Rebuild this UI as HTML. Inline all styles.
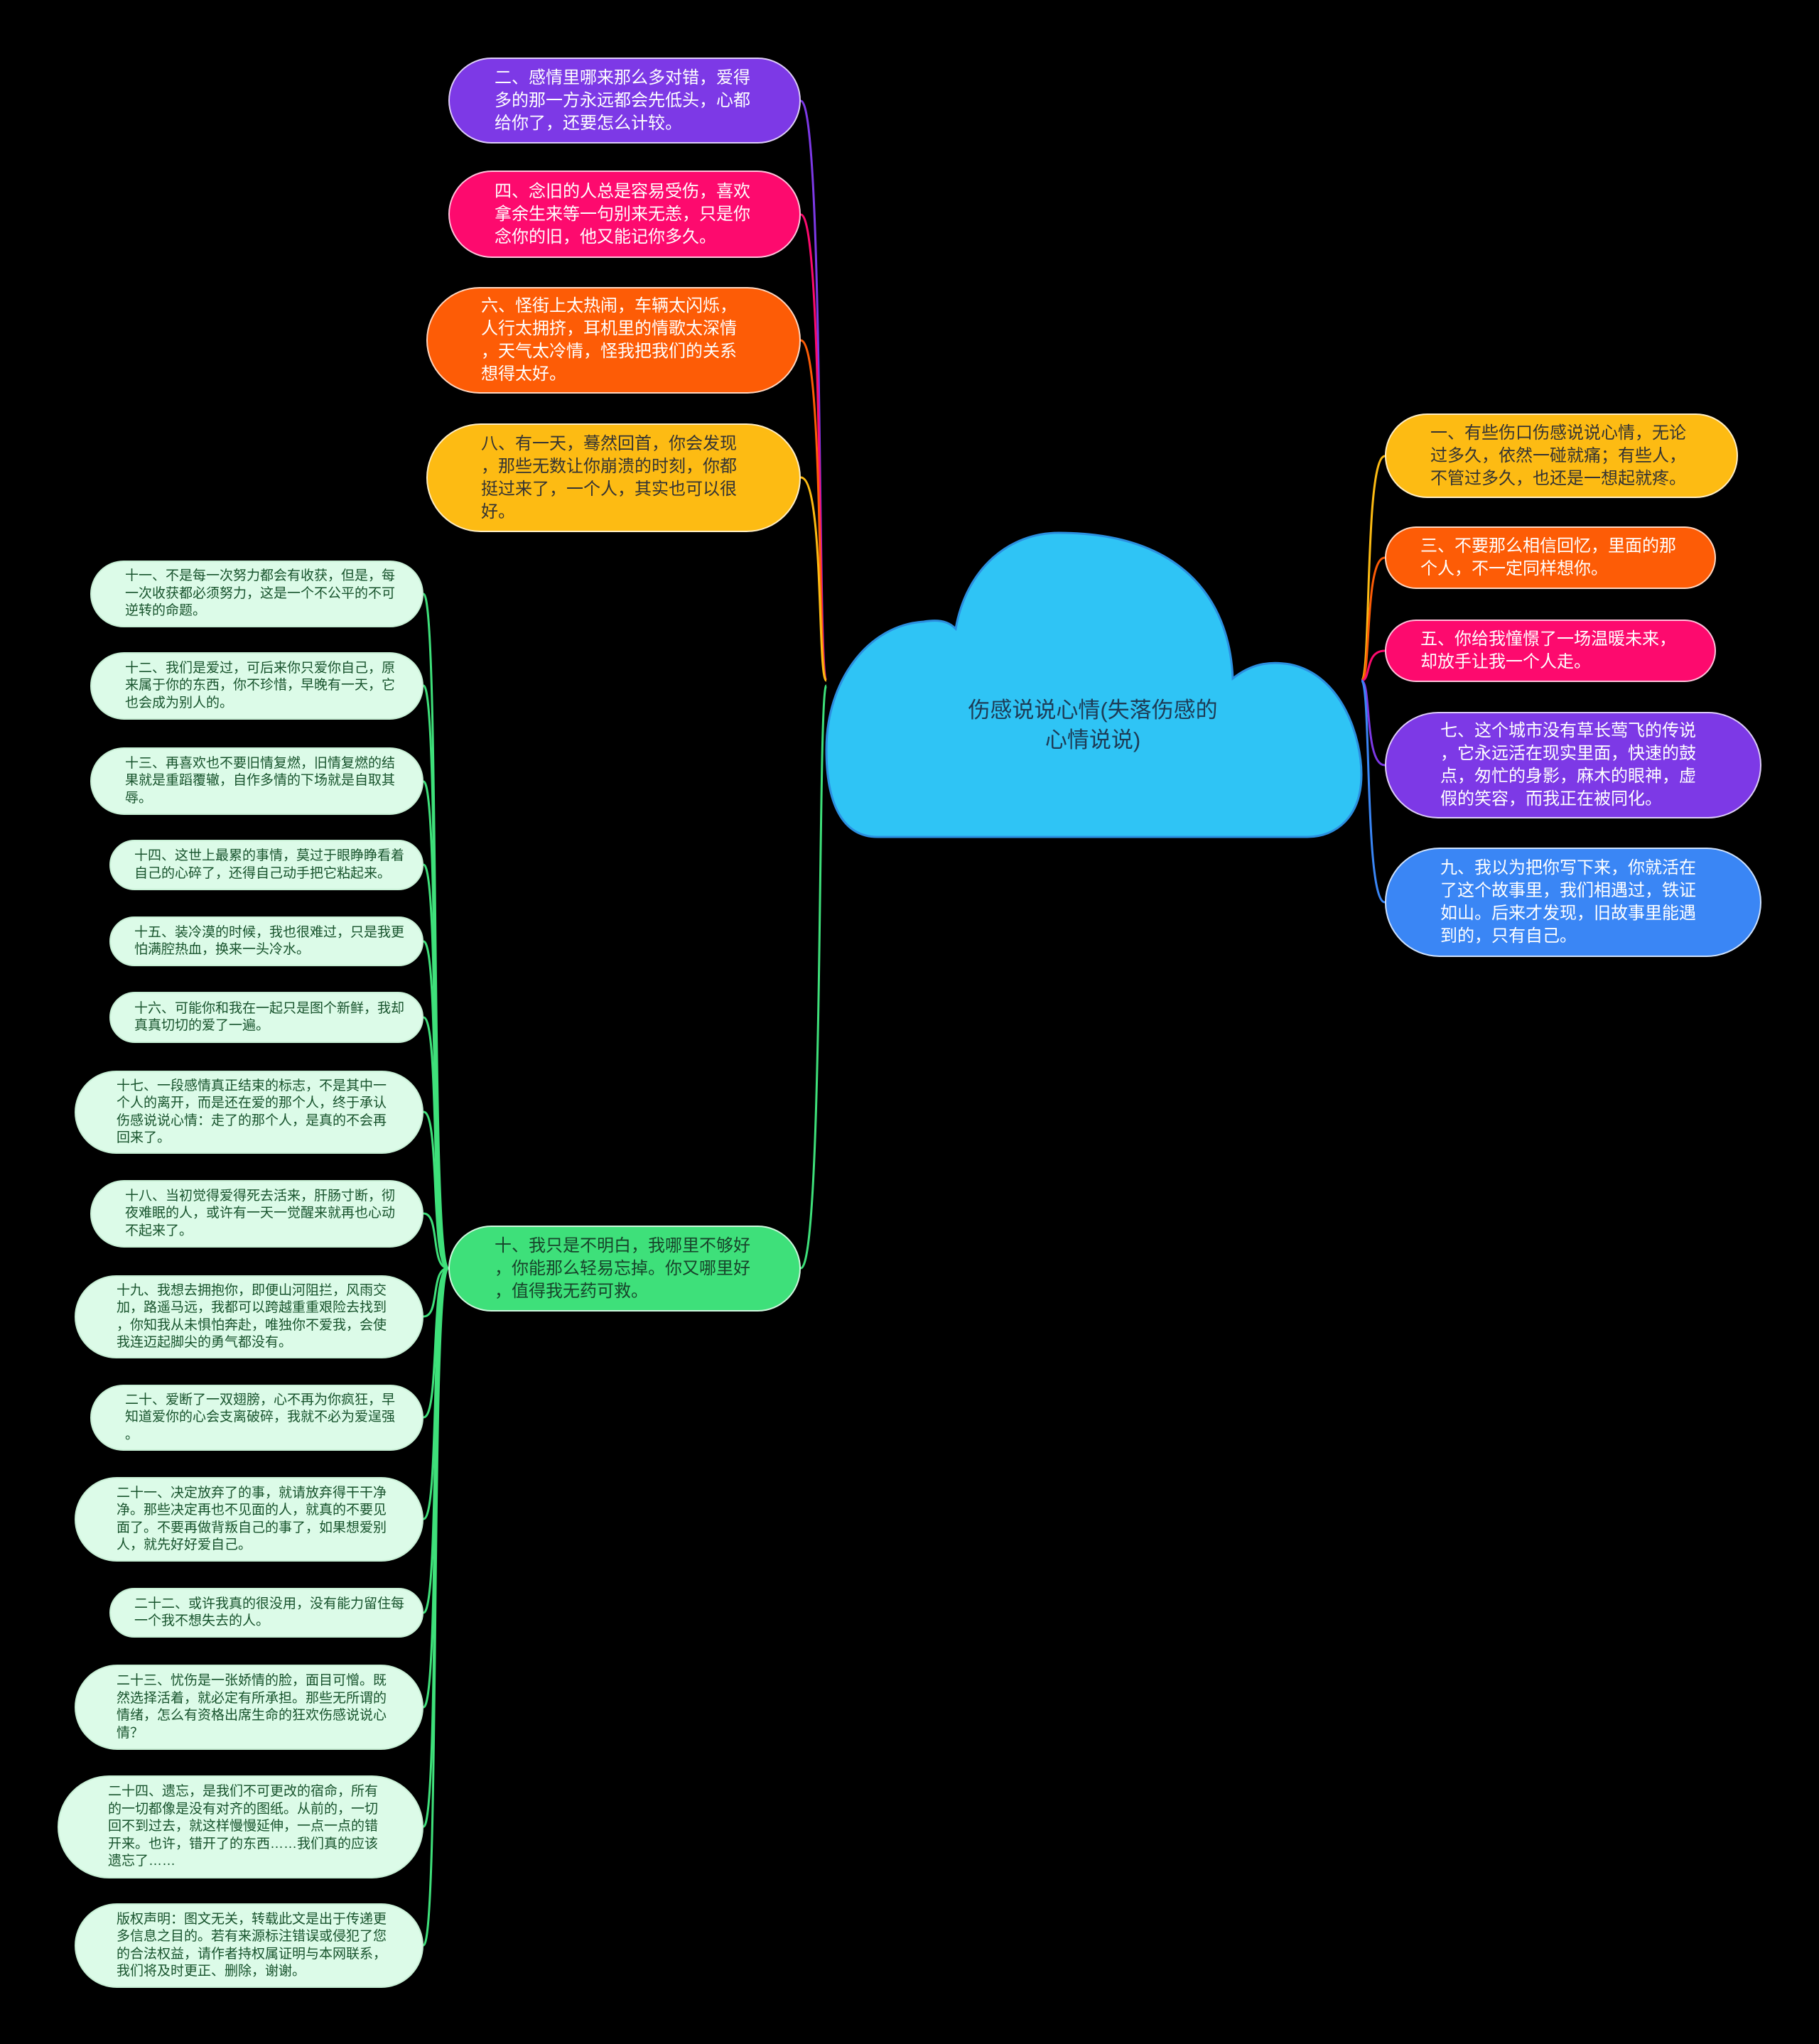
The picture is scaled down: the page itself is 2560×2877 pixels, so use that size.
<!DOCTYPE html>
<html><head><meta charset="utf-8"><style>
html,body{margin:0;padding:0;background:#000;}
body{width:2560px;height:2877px;position:relative;overflow:hidden;font-family:"Liberation Sans","Noto Sans CJK SC",sans-serif;}
.n{position:absolute;box-sizing:border-box;border-radius:999px;border:2px solid rgba(255,255,255,0.75);display:flex;align-items:center;white-space:nowrap;}
.big{font-size:24px;line-height:32px;color:#fff;}
.sm{font-size:19px;line-height:24.5px;color:#17532c;background:#dcfbe8;border-color:#c8f0d6;}
svg{position:absolute;left:0;top:0;}
</style></head><body>
<svg width="2560" height="2877" viewBox="0 0 2560 2877">
<g fill="none" stroke-width="3">
<path d="M1127 142 C1160 142,1150 958,1163 958" stroke="#7d39e6"/>
<path d="M1127 302 C1160 302,1150 958,1163 958" stroke="#fd0a6e"/>
<path d="M1127 479 C1160 479,1150 958,1163 958" stroke="#fd5c06"/>
<path d="M1127 672 C1160 672,1150 958,1163 958" stroke="#fdbb13"/>
<path d="M1127 1785 C1160 1785,1150 965,1163 965" stroke="#3ee07a"/>
<path d="M1949 642 C1920 642,1930 958,1916 958" stroke="#fdbb13"/>
<path d="M1949 785 C1920 785,1930 958,1916 958" stroke="#fd5c06"/>
<path d="M1949 916 C1920 916,1930 958,1916 958" stroke="#fd0a6e"/>
<path d="M1949 1077 C1920 1077,1930 958,1916 958" stroke="#7d39e6"/>
<path d="M1949 1270 C1920 1270,1930 958,1916 958" stroke="#3a86f5"/>
</g>
<g fill="none" stroke="#3ee07a" stroke-width="3">
<path d="M631 1785 C605 1785,620 836,596 836"/>
<path d="M631 1785 C605 1785,620 965,596 965"/>
<path d="M631 1785 C605 1785,620 1100,596 1100"/>
<path d="M631 1785 C605 1785,620 1217,596 1217"/>
<path d="M631 1785 C605 1785,620 1325,596 1325"/>
<path d="M631 1785 C605 1785,620 1432,596 1432"/>
<path d="M631 1785 C605 1785,620 1565,596 1565"/>
<path d="M631 1785 C605 1785,620 1708,596 1708"/>
<path d="M631 1785 C605 1785,620 1853,596 1853"/>
<path d="M631 1785 C605 1785,620 1995,596 1995"/>
<path d="M631 1785 C605 1785,620 2138,596 2138"/>
<path d="M631 1785 C605 1785,620 2270,596 2270"/>
<path d="M631 1785 C605 1785,620 2403,596 2403"/>
<path d="M631 1785 C605 1785,620 2571,596 2571"/>
<path d="M631 1785 C605 1785,620 2738,596 2738"/>
</g>
<path d="M1235 1178 C1185 1178,1163 1130,1163 1055 C1163 960,1220 880,1300 875 C1330 870,1340 880,1345 885 C1360 800,1420 750,1490 750 C1660 750,1730 840,1735 955 C1760 935,1785 930,1815 935 C1890 950,1916 1040,1916 1090 C1916 1150,1880 1178,1840 1178 Z" fill="#2fc4f5" stroke="#2b8fe0" stroke-width="3"/>
<text x="1538" y="1010" text-anchor="middle" font-size="31" fill="#1d3b55" font-family="Liberation Sans, Noto Sans CJK SC, sans-serif">伤感说说心情(失落伤感的</text>
<text x="1538" y="1052" text-anchor="middle" font-size="31" fill="#1d3b55" font-family="Liberation Sans, Noto Sans CJK SC, sans-serif">心情说说)</text>
</svg>

<div class="n big" style="left:631px;top:81px;width:496px;height:121px;background:#7d39e6;padding-left:63px;">二、感情里哪来那么多对错，爱得<br>多的那一方永远都会先低头，心都<br>给你了，还要怎么计较。</div>
<div class="n big" style="left:631px;top:240px;width:496px;height:123px;background:#fd0a6e;padding-left:63px;">四、念旧的人总是容易受伤，喜欢<br>拿余生来等一句别来无恙，只是你<br>念你的旧，他又能记你多久。</div>
<div class="n big" style="left:600px;top:404px;width:527px;height:150px;background:#fd5c06;padding-left:75px;">六、怪街上太热闹，车辆太闪烁，<br>人行太拥挤，耳机里的情歌太深情<br>，天气太冷情，怪我把我们的关系<br>想得太好。</div>
<div class="n big" style="left:600px;top:596px;width:527px;height:153px;background:#fdbb13;color:#333;padding-left:75px;">八、有一天，蓦然回首，你会发现<br>，那些无数让你崩溃的时刻，你都<br>挺过来了，一个人，其实也可以很<br>好。</div>
<div class="n big" style="left:631px;top:1725px;width:496px;height:121px;background:#3ee07a;color:#17432a;padding-left:63px;">十、我只是不明白，我哪里不够好<br>，你能那么轻易忘掉。你又哪里好<br>，值得我无药可救。</div>

<div class="n big" style="left:1949px;top:582px;width:497px;height:119px;background:#fdbb13;color:#333;padding-left:62px;">一、有些伤口伤感说说心情，无论<br>过多久，依然一碰就痛；有些人，<br>不管过多久，也还是一想起就疼。</div>
<div class="n big" style="left:1949px;top:741px;width:466px;height:88px;background:#fd5c06;padding-left:48px;">三、不要那么相信回忆，里面的那<br>个人，不一定同样想你。</div>
<div class="n big" style="left:1949px;top:872px;width:466px;height:88px;background:#fd0a6e;padding-left:48px;">五、你给我憧憬了一场温暖未来，<br>却放手让我一个人走。</div>
<div class="n big" style="left:1949px;top:1002px;width:530px;height:150px;background:#7d39e6;padding-left:76px;">七、这个城市没有草长莺飞的传说<br>，它永远活在现实里面，快速的鼓<br>点，匆忙的身影，麻木的眼神，虚<br>假的笑容，而我正在被同化。</div>
<div class="n big" style="left:1949px;top:1193px;width:530px;height:154px;background:#3a86f5;padding-left:76px;">九、我以为把你写下来，你就活在<br>了这个故事里，我们相遇过，铁证<br>如山。后来才发现，旧故事里能遇<br>到的，只有自己。</div>

<div class="n sm" style="left:127px;top:789px;width:469px;height:94px;padding-left:47px;">十一、不是每一次努力都会有收获，但是，每<br>一次收获都必须努力，这是一个不公平的不可<br>逆转的命题。</div>
<div class="n sm" style="left:127px;top:918px;width:469px;height:95px;padding-left:47px;">十二、我们是爱过，可后来你只爱你自己，原<br>来属于你的东西，你不珍惜，早晚有一天，它<br>也会成为别人的。</div>
<div class="n sm" style="left:127px;top:1052px;width:469px;height:95px;padding-left:47px;">十三、再喜欢也不要旧情复燃，旧情复燃的结<br>果就是重蹈覆辙，自作多情的下场就是自取其<br>辱。</div>
<div class="n sm" style="left:154px;top:1182px;width:442px;height:71px;padding-left:33px;">十四、这世上最累的事情，莫过于眼睁睁看着<br>自己的心碎了，还得自己动手把它粘起来。</div>
<div class="n sm" style="left:154px;top:1290px;width:442px;height:70px;padding-left:33px;">十五、装冷漠的时候，我也很难过，只是我更<br>怕满腔热血，换来一头冷水。</div>
<div class="n sm" style="left:154px;top:1396px;width:442px;height:72px;padding-left:33px;">十六、可能你和我在一起只是图个新鲜，我却<br>真真切切的爱了一遍。</div>
<div class="n sm" style="left:105px;top:1507px;width:491px;height:117px;padding-left:57px;">十七、一段感情真正结束的标志，不是其中一<br>个人的离开，而是还在爱的那个人，终于承认<br>伤感说说心情：走了的那个人，是真的不会再<br>回来了。</div>
<div class="n sm" style="left:127px;top:1661px;width:469px;height:95px;padding-left:47px;">十八、当初觉得爱得死去活来，肝肠寸断，彻<br>夜难眠的人，或许有一天一觉醒来就再也心动<br>不起来了。</div>
<div class="n sm" style="left:105px;top:1795px;width:491px;height:117px;padding-left:57px;">十九、我想去拥抱你，即便山河阻拦，风雨交<br>加，路遥马远，我都可以跨越重重艰险去找到<br>，你知我从未惧怕奔赴，唯独你不爱我，会使<br>我连迈起脚尖的勇气都没有。</div>
<div class="n sm" style="left:127px;top:1949px;width:469px;height:93px;padding-left:47px;">二十、爱断了一双翅膀，心不再为你疯狂，早<br>知道爱你的心会支离破碎，我就不必为爱逞强<br>。</div>
<div class="n sm" style="left:105px;top:2079px;width:491px;height:119px;padding-left:57px;">二十一、决定放弃了的事，就请放弃得干干净<br>净。那些决定再也不见面的人，就真的不要见<br>面了。不要再做背叛自己的事了，如果想爱别<br>人，就先好好爱自己。</div>
<div class="n sm" style="left:154px;top:2235px;width:442px;height:70px;padding-left:33px;">二十二、或许我真的很没用，没有能力留住每<br>一个我不想失去的人。</div>
<div class="n sm" style="left:105px;top:2343px;width:491px;height:120px;padding-left:57px;">二十三、忧伤是一张娇情的脸，面目可憎。既<br>然选择活着，就必定有所承担。那些无所谓的<br>情绪，怎么有资格出席生命的狂欢伤感说说心<br>情？</div>
<div class="n sm" style="left:81px;top:2499px;width:515px;height:145px;padding-left:69px;">二十四、遗忘，是我们不可更改的宿命，所有<br>的一切都像是没有对齐的图纸。从前的，一切<br>回不到过去，就这样慢慢延伸，一点一点的错<br>开来。也许，错开了的东西……我们真的应该<br>遗忘了……</div>
<div class="n sm" style="left:105px;top:2679px;width:491px;height:119px;padding-left:57px;">版权声明：图文无关，转载此文是出于传递更<br>多信息之目的。若有来源标注错误或侵犯了您<br>的合法权益，请作者持权属证明与本网联系，<br>我们将及时更正、删除，谢谢。</div>
</body></html>
